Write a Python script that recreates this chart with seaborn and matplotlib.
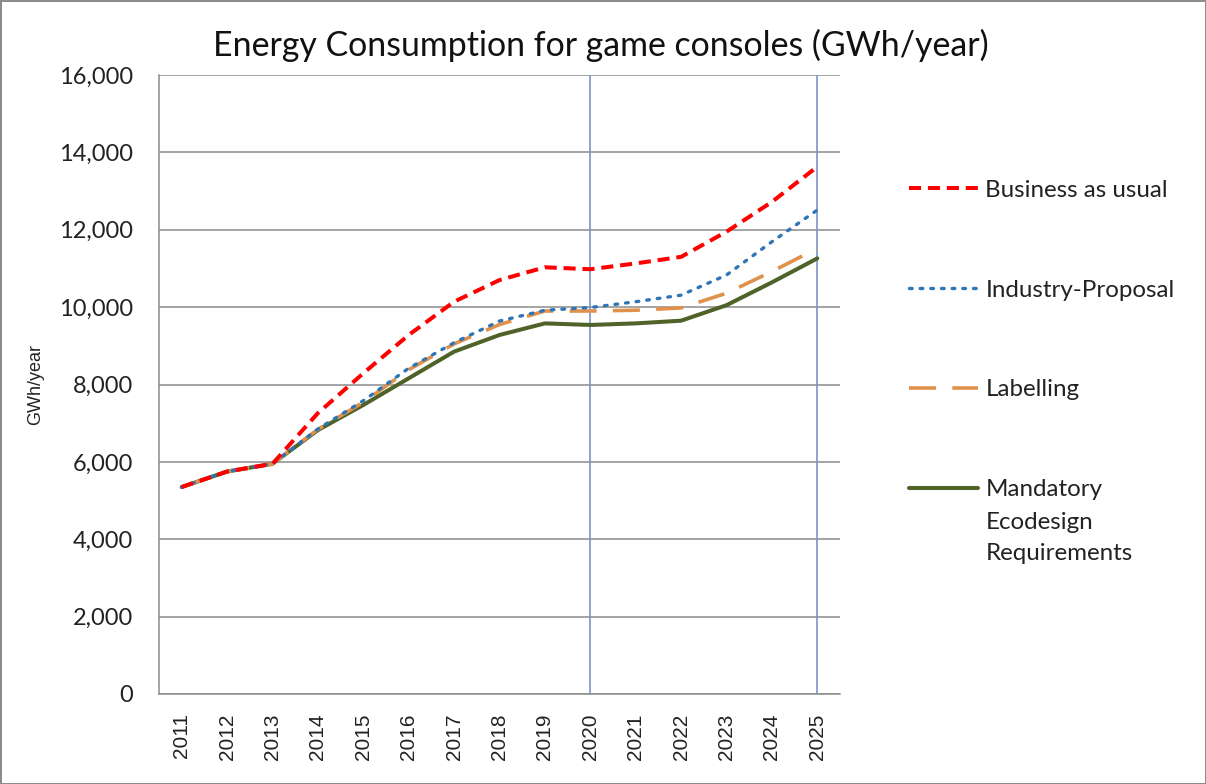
import pandas as pd
import matplotlib.pyplot as plt
import matplotlib.ticker as mticker
import seaborn as sns

# DATA
years = list(range(2011, 2026))
business_as_usual = [5350, 5750, 5950, 7260, 8290, 9280, 10140, 10700, 11030, 10980, 11130, 11300, 11950, 12720, 13630]
industry_proposal = [5350, 5750, 5950, 6850, 7580, 8420, 9080, 9640, 9920, 9990, 10140, 10310, 10830, 11690, 12510]
labelling = [5350, 5750, 5950, 6840, 7540, 8380, 9050, 9550, 9900, 9900, 9920, 9980, 10360, 10920, 11520]
mandatory = [5350, 5750, 5950, 6820, 7470, 8160, 8850, 9280, 9580, 9540, 9580, 9650, 10050, 10640, 11260]
marked_years = [2020, 2025]

df = pd.DataFrame({'Year': years,
                   'Business as usual': business_as_usual,
                   'Industry-Proposal': industry_proposal,
                   'Labelling': labelling,
                   'Mandatory': mandatory})

sns.set_style('white')
plt.rcParams['font.family'] = ['Lato', 'DejaVu Sans']

fig = plt.figure(figsize=(12.06, 7.84), dpi=100)
ax = fig.add_axes([0.1318, 0.1148, 0.5647, 0.7895])

#-------------------------------
# LINES (drawn bottom to top)
sns.lineplot(data=df, x='Year', y='Mandatory', ax=ax, color='#4F6228', linewidth=2.9,
             label='Mandatory', errorbar=None)
sns.lineplot(data=df, x='Year', y='Labelling', ax=ax, color='#E0914B', linewidth=2.6,
             linestyle=(0, (7.5, 4.5)), label='Labelling', errorbar=None)
sns.lineplot(data=df, x='Year', y='Industry-Proposal', ax=ax, color='#2E75B6', linewidth=2.4,
             linestyle=(0, (0.8, 2.4)), dash_capstyle='round', label='Industry-Proposal', errorbar=None)
sns.lineplot(data=df, x='Year', y='Business as usual', ax=ax, color='#FF0000', linewidth=2.9,
             linestyle=(0, (3.0, 1.7)), label='Business as usual', errorbar=None)

# vertical marker lines
for yr in marked_years:
    ax.axvline(yr, color='#7A96C8', linewidth=1.2, zorder=1)

#-------------------------------
# AXES
ax.set_xlim(years[0] - 0.5, years[-1] + 0.5)
ax.set_ylim(0, 16000)
ax.set_yticks(range(0, 16001, 2000))
ax.yaxis.set_major_formatter(mticker.StrMethodFormatter('{x:,.0f}'))
ax.set_xticks(years)
ax.set_xticklabels([str(y) for y in years], rotation=90, fontsize=15, family='Liberation Sans')
ax.tick_params(axis='y', length=0, pad=18.5, labelsize=17, labelcolor='#222222')
ax.tick_params(axis='x', length=0, pad=14, labelcolor='#222222')
ax.grid(axis='y', color='#8C8C8C', linewidth=1.1)
ax.set_axisbelow(True)
for side in ['top', 'right']:
    ax.spines[side].set_visible(False)
for side in ['left', 'bottom']:
    ax.spines[side].set_color('#8C8C8C')
    ax.spines[side].set_linewidth(1.1)

ax.set_xlabel('')
ax.set_ylabel('GWh/year', fontsize=13, family='Liberation Sans', color='#222222')
ax.yaxis.set_label_coords(-0.168, 0.5)

fig.text(0.498, 0.942, 'Energy Consumption for game consoles (GWh/year)', ha='center', va='center',
         fontsize=24.4, color='#111111')

#-------------------------------
# LEGEND
handles, labels = ax.get_legend_handles_labels()
order = [3, 2, 1, 0]
leg = ax.legend([handles[i] for i in order], [labels[i] for i in order],
                loc='upper left', bbox_to_anchor=(0.736, 0.7985), bbox_transform=fig.transFigure,
                frameon=False, fontsize=17.4, handlelength=2.85, handletextpad=0.3, labelspacing=3.26)
for t in leg.get_texts():
    t.set_color('#222222')

# rest of the multi-line "Mandatory" label, under its first line
fig.canvas.draw()
bb = leg.get_texts()[3].get_window_extent()
fx, fy = fig.transFigure.inverted().transform((bb.x0, bb.y1 - 32.5))
fig.text(fx, fy, 'Ecodesign\nRequirements', ha='left', va='top',
         fontsize=17.4, color='#222222', linespacing=1.62)

# figure frame
fig.patch.set_edgecolor('#8C8C8C')
fig.patch.set_linewidth(2)

fig.savefig('out.png', dpi=100, edgecolor=fig.get_edgecolor())
